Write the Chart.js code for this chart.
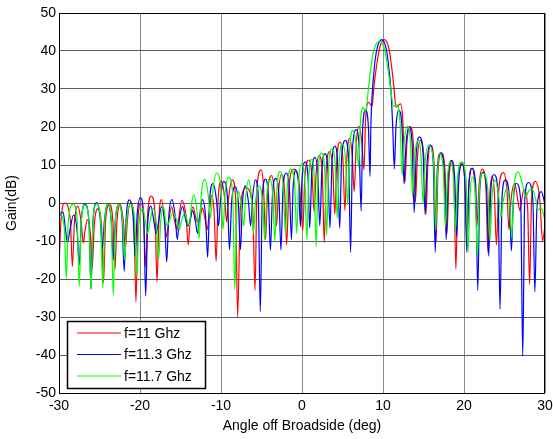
<!DOCTYPE html>
<html>

<head>
  <meta charset="utf-8">
  <title>Gain vs angle</title>
  <script src="https://cdn.jsdelivr.net/npm/chart.js@4.4.1/dist/chart.umd.min.js"></script>
  <style>
    html, body { margin: 0; padding: 0; background: #fff; }
  </style>
</head>

<body>
  <canvas id="gain" width="553" height="439"></canvas>
  <script>
    // tick values
    var xTicks = [-30, -20, -10, 0, 10, 20, 30];
    var yTicks = [-50, -40, -30, -20, -10, 0, 10, 20, 30, 40, 50];

    var seriesNames = ['f=11 Ghz', 'f=11.3 Ghz', 'f=11.7 Ghz'];

    // [angle (deg), gain (dB)]
    var red = [
      [-30, -16.5], [-29.75, -4.5], [-29.3, 0], [-28.6, -4.5], [-28.35, -16.7],
      [-28.1, -5.3], [-27.65, -0.8], [-27.25, -5.3], [-27.0, -10.5],
      [-26.8, -7.5], [-26.5, -4.4], [-26.15, -7.5], [-25.9, -17],
      [-25.65, -6], [-25.2, -1.5], [-24.75, -6], [-24.5, -21],
      [-24.25, -4.8], [-23.8, -0.3], [-23.35, -4.8], [-23.1, -17.6],
      [-22.85, -5], [-22.45, -0.5], [-22.05, -5], [-21.8, -12],
      [-21.55, -4.3], [-21.15, 0.2], [-20.75, -4.3], [-20.5, -26],
      [-20.25, -4.5], [-19.9, 0], [-19.55, -4.5], [-19.3, -16.8],
      [-19.05, -2.7], [-18.6, 1.8], [-18.15, -2.7], [-17.9, -20.8],
      [-17.65, -3.6], [-17.35, 0.9], [-17.0, -3.6], [-16.75, -9],
      [-16.5, -5.5], [-16.1, -1], [-15.7, -5], [-15.45, -7],
      [-15.2, -3.8], [-14.85, 0.7], [-14.3, -3.8], [-14.05, -11],
      [-13.8, -4.5], [-13.45, -1], [-13.1, -4], [-12.85, -5],
      [-12.6, -4], [-12.3, -1.3], [-11.95, -4.5], [-11.7, -7],
      [-11.45, -2.5], [-11.15, 2], [-10.85, -2.5], [-10.6, -15.4],
      [-10.35, 1.3], [-9.95, 5.8], [-9.55, 1.3], [-9.3, -5],
      [-9.05, 1.6], [-8.6, 6.1], [-8.2, 1.6], [-7.95, -30],
      [-7.6, -1], [-6.9, 4], [-6.1, -1], [-5.8, -23],
      [-5.55, 4.2], [-5.05, 8.7], [-4.75, 4.2], [-4.5, -9.6],
      [-4.25, 2.7], [-3.75, 7.2], [-3.4, 2.7], [-3.15, -6],
      [-2.9, 3], [-2.55, 7.5], [-2.15, 3], [-1.9, -11],
      [-1.6, 4.4], [-1.0, 8.9], [-0.3, 4.4], [0.1, -7.2],
      [0.35, 6.8], [0.85, 11.3], [1.25, 6.8], [1.5, -2.3],
      [1.75, 8], [2.1, 12.5], [2.5, 8], [2.75, -10.4],
      [3.0, 9], [3.4, 13.5], [3.8, 9], [4.05, -3],
      [4.3, 11.5], [4.7, 16], [5.05, 11.5], [5.3, -2],
      [5.55, 12.5], [5.9, 17], [6.2, 12.5], [6.45, 3],
      [6.7, 15.7], [7.05, 20.2], [7.4, 15.7], [7.65, 8.7],
      [7.85, 22], [8.2, 26.5], [8.65, 25.5],
      [8.9, 31], [9.2, 36], [9.55, 40.5], [10.15, 43], [10.75, 40.5], [11.05, 36], [11.35, 30.5], [11.6, 25.2],
      [12.15, 26.1], [12.45, 21.6], [12.7, 5.3],
      [12.95, 15.7], [13.3, 20.2], [13.75, 15.7], [14.0, 0.3],
      [14.25, 12], [14.6, 16.5], [15.05, 12], [15.3, -3],
      [15.55, 10.7], [15.9, 15.2], [16.3, 10.7], [16.55, -10],
      [16.8, 8.7], [17.2, 13.2], [17.65, 8.7], [17.9, -8],
      [18.15, 6.5], [18.5, 11], [18.75, 6.5], [19.0, -17.5],
      [19.25, 6], [19.7, 10.5], [20.1, 6], [20.35, -9],
      [20.6, 4.7], [21.0, 9.2], [21.35, 4.7], [21.6, -6],
      [21.85, 4.4], [22.25, 8.9], [22.7, 4.4], [22.95, -13],
      [23.2, 2.5], [23.5, 7], [23.75, 2.5], [24.0, -11],
      [24.3, 3.5], [24.85, 8], [25.3, 3.5], [25.55, -7],
      [25.8, 0.7], [26.25, 5.2], [26.65, 0.7], [26.9, -2],
      [27.1, 0.5], [27.4, 3.5], [27.85, -1], [28.1, -21.4],
      [28.35, 1.2], [28.8, 5.7], [29.35, 1.2], [29.7, -10],
      [30, -6]
    ];

    var blue = [
      [-30, -3.5], [-29.5, -2.4], [-29.2, -6.9], [-28.95, -10.5],
      [-28.7, -7.7], [-28.2, -3.2], [-27.75, -7.7], [-27.5, -16.3],
      [-27.25, -4.8], [-26.8, -0.3], [-26.3, -4.8], [-26.05, -22.6],
      [-25.8, -4.4], [-25.35, 0.1], [-24.9, -4.4], [-24.65, -12],
      [-24.4, -4.8], [-24.0, -0.3], [-23.55, -4.8], [-23.3, -15],
      [-23.05, -4.7], [-22.6, -0.2], [-22.2, -4.7], [-21.95, -18],
      [-21.7, -3.7], [-21.3, 0.8], [-20.85, -3.7], [-20.6, -14],
      [-20.35, -3.1], [-19.95, 1.4], [-19.55, -3.1], [-19.3, -24.5],
      [-19.05, -5.3], [-18.65, -0.8], [-18.25, -5.3], [-18.0, -8],
      [-17.75, -5.5], [-17.35, -1], [-16.95, -5.5], [-16.7, -15.5],
      [-16.45, -3.6], [-16.05, 0.9], [-15.65, -3.6], [-15.4, -9.6],
      [-15.15, -4.5], [-14.75, -0.9], [-14.35, -4.5], [-14.1, -6],
      [-13.85, -5], [-13.5, -2], [-13.15, -5], [-12.9, -8],
      [-12.65, -3.6], [-12.3, 0.9], [-11.9, -3.6], [-11.65, -14.3],
      [-11.4, 0.6], [-11.0, 5.1], [-10.55, 0.6], [-10.3, -6],
      [-10.05, 1.2], [-9.65, 5.7], [-9.2, 1.2], [-8.95, -12.3],
      [-8.7, -0.2], [-8.25, 4.3], [-7.85, -0.2], [-7.6, -12.3],
      [-7.35, 0], [-7.0, 4.5], [-6.6, 0], [-6.35, -6],
      [-6.1, 1.6], [-5.75, 6.1], [-5.4, 1.6], [-5.15, -28.6],
      [-4.9, 1.8], [-4.5, 6.3], [-4.15, 1.8], [-3.9, -12.5],
      [-3.65, 2], [-3.25, 6.5], [-2.85, 2], [-2.6, -12.4],
      [-2.35, 3.4], [-1.95, 7.9], [-1.55, 3.4], [-1.3, -9.6],
      [-1.1, 4.1], [-0.75, 8.6], [-0.4, 4.1], [-0.2, -6.2],
      [0.0, 6.3], [0.4, 10.8], [0.75, 6.3], [0.95, -6.6],
      [1.2, 7.5], [1.6, 12], [1.95, 7.5], [2.2, -6],
      [2.45, 8.5], [2.85, 13], [3.2, 8.5], [3.45, -6.5],
      [3.7, 10.5], [4.05, 15], [4.4, 10.5], [4.65, -6.6],
      [4.9, 12], [5.35, 16.5], [5.75, 12], [6.0, -13],
      [6.25, 14.8], [6.7, 19.3], [7.05, 14.8], [7.3, -2.1],
      [7.5, 19.9], [7.85, 24.4], [8.2, 19.9], [8.4, 7],
      [8.5, 20], [8.65, 28], [8.9, 35], [9.2, 40], [9.85, 43], [10.45, 40], [10.75, 35], [11.0, 29], [11.2, 20], [11.4, 9],
      [11.6, 19.9], [11.95, 24.4], [12.35, 19.9], [12.6, 5],
      [12.85, 15.5], [13.2, 20], [13.6, 15.5], [13.85, -2.5],
      [14.1, 12.9], [14.5, 17.4], [14.95, 12.9], [15.2, -3],
      [15.45, 10.8], [15.8, 15.3], [16.2, 10.8], [16.45, -13],
      [16.7, 8.7], [17.1, 13.2], [17.55, 8.7], [17.8, -9.7],
      [18.05, 6.7], [18.45, 11.2], [18.85, 6.7], [19.1, -9],
      [19.35, 5.7], [19.75, 10.2], [20.1, 5.7], [20.35, -13],
      [20.6, 4.6], [21.0, 9.1], [21.45, 4.6], [21.7, -23],
      [21.95, 3.6], [22.35, 8.1], [22.8, 3.6], [23.05, -14],
      [23.3, 3], [23.7, 7.5], [24.2, 3], [24.45, -28],
      [24.7, 1.6], [25.1, 6.1], [25.6, 1.6], [25.85, -12.6],
      [26.1, 0.7], [26.45, 5.2], [27.0, 0.7], [27.25, -40.3],
      [27.5, 0.9], [27.95, 5.4], [28.5, 0.9], [28.75, -23.4],
      [29.0, -1.5], [29.55, 3], [30, -0.5]
    ];

    var green = [
      [-30, -2], [-29.35, -6.5], [-29.1, -19.9],
      [-28.85, -4.8], [-28.25, -0.3], [-27.75, -4.8], [-27.5, -22],
      [-27.25, -5], [-26.8, -0.5], [-26.3, -5], [-26.05, -22.7],
      [-25.8, -4.7], [-25.35, -0.2], [-24.85, -4.7], [-24.6, -22.3],
      [-24.35, -4.8], [-23.95, -0.3], [-23.55, -4.8], [-23.3, -24.3],
      [-23.05, -4.8], [-22.6, -0.3], [-22.15, -4.8], [-21.9, -15],
      [-21.65, -4.8], [-21.15, -0.3], [-20.65, -4.8], [-20.4, -19.4],
      [-20.15, -6], [-19.65, -1.5], [-19.3, -5.5], [-19.05, -8],
      [-18.8, -5.5], [-18.4, -1.5], [-17.95, -6], [-17.7, -14.7],
      [-17.45, -5], [-17.1, -1], [-16.85, -4.5], [-16.6, -6],
      [-16.35, -4.5], [-15.9, -2.5], [-15.4, -5], [-15.15, -7],
      [-14.9, -5], [-14.5, -2.7], [-14.15, -4.8], [-13.9, -6],
      [-13.7, -1.5], [-13.4, 2.2], [-12.95, -2.3], [-12.7, -9.3],
      [-12.45, 1.7], [-12.0, 6.2], [-11.55, 1.7], [-11.3, -4],
      [-11.0, 3.4], [-10.55, 7.9], [-10.0, 3.4], [-9.75, -7],
      [-9.5, 2.3], [-9.05, 6.8], [-8.55, 2.3], [-8.3, -22.7],
      [-8.05, -1.5], [-7.8, 3], [-7.45, -1.5], [-7.2, -6],
      [-6.95, 1.5], [-6.6, 6], [-6.25, 1.5], [-6.0, -8],
      [-5.75, 0], [-5.35, 4.5], [-4.85, 0], [-4.6, -9.8],
      [-4.35, 2], [-4.0, 6.5], [-3.6, 2], [-3.35, -10],
      [-3.1, 3.8], [-2.7, 8.3], [-2.3, 3.8], [-2.05, -8],
      [-1.8, 4.5], [-1.4, 9], [-0.9, 4.5], [-0.65, -8],
      [-0.4, 5.9], [-0.05, 10.4], [0.35, 5.9], [0.6, -9.7],
      [0.85, 7], [1.2, 11.5], [1.5, 7], [1.75, -11.5],
      [2.0, 8.7], [2.4, 13.2], [2.8, 8.7], [3.05, -8.4],
      [3.3, 9.8], [3.7, 14.3], [4.1, 9.8], [4.35, -4],
      [4.6, 11], [5.0, 15.5], [5.4, 11], [5.65, -0.5],
      [5.9, 14.7], [6.3, 19.2], [6.75, 14.7], [7.0, 9.5],
      [7.2, 21], [7.55, 25.1], [7.85, 24],
      [8.2, 30], [8.5, 35.5], [8.85, 40], [9.55, 42.6], [10.25, 40], [10.6, 35.5], [10.95, 30], [11.3, 25.4],
      [11.65, 25.9], [12.1, 21.4], [12.35, 7.3],
      [12.6, 15.7], [13.0, 20.2], [13.4, 15.7], [13.65, 1.6],
      [13.9, 12], [14.4, 16.5], [14.7, 12], [14.95, -0.2],
      [15.2, 10.7], [15.65, 15.2], [16.25, 10.7], [16.5, -7.2],
      [16.75, 8.5], [17.0, 13], [17.45, 8.5], [17.7, -6.3],
      [17.95, 6.3], [18.35, 10.8], [18.7, 6.3], [18.95, -7.2],
      [19.2, 6.3], [19.7, 10.8], [20.25, 6.3], [20.5, -12.9],
      [20.75, 2.3], [21.0, 6.8], [21.4, 2.3], [21.65, -13.8],
      [21.9, 3.4], [22.3, 7.9], [22.95, 3.4], [23.2, -9.8],
      [23.45, 1.5], [23.8, 6], [24.3, 1.5], [24.55, -3.7],
      [24.8, 0], [25.3, 4], [25.65, -0.5], [25.9, -9],
      [26.15, 3.7], [26.7, 8.2], [27.35, 3.7], [27.65, 1.6],
      [27.9, 2.8], [28.35, 3.8], [28.85, 1], [29.1, -1.9],
      [29.5, -1.2], [30, -4.5]
    ];

    var lineColors = ['#ff0000', '#0000ff', '#00ff00'];

    var FONT = { family: "'Liberation Sans', Arial, sans-serif", size: 14 };

    function toPoints(list) {
      return list.map(function (p) { return { x: p[0], y: p[1] }; });
    }

    // box round the plot and the legend in the lower left corner
    var framePlugin = {
      id: 'frame',
      afterDraw: function (chart) {
        var ctx = chart.ctx;
        var a = chart.chartArea;
        ctx.save();
        ctx.strokeStyle = '#000';
        ctx.lineWidth = 1;
        ctx.strokeRect(a.left + 0.5, a.top + 0.5, a.right - a.left - 1, a.bottom - a.top);

        var bx = a.left + 8, by = a.bottom - 72, bw = 138, bh = 67;
        ctx.fillStyle = '#fff';
        ctx.fillRect(bx, by, bw, bh);
        ctx.lineWidth = 1.5;
        ctx.strokeRect(bx + 0.5, by + 0.5, bw, bh);

        ctx.font = FONT.size + 'px ' + FONT.family;
        ctx.textBaseline = 'middle';
        ctx.textAlign = 'left';
        for (var i = 0; i < seriesNames.length; i++) {
          var ly = by + 12 + i * 21.5;
          ctx.strokeStyle = lineColors[i];
          ctx.lineWidth = 1.2;
          ctx.beginPath();
          ctx.moveTo(bx + 10, ly);
          ctx.lineTo(bx + 54, ly);
          ctx.stroke();
          ctx.fillStyle = '#000';
          ctx.fillText(seriesNames[i], bx + 57, ly + 1);
        }
        ctx.restore();
      }
    };

    var chart = new Chart(document.getElementById('gain'), {
      type: 'line',
      data: {
        datasets: [
          { label: seriesNames[0], data: toPoints(red), borderColor: lineColors[0], order: 3 },
          { label: seriesNames[1], data: toPoints(blue), borderColor: lineColors[1], order: 2 },
          { label: seriesNames[2], data: toPoints(green), borderColor: lineColors[2], order: 1 }
        ]
      },
      options: {
        responsive: false,
        animation: false,
        events: [],
        layout: { padding: { left: 0, right: 8, top: 13, bottom: 0 } },
        elements: {
          point: { radius: 0 },
          line: { borderWidth: 1.2, fill: false, cubicInterpolationMode: 'monotone' }
        },
        plugins: {
          legend: { display: false },
          tooltip: { enabled: false }
        },
        scales: {
          x: {
            type: 'linear',
            min: -30,
            max: 30,
            afterBuildTicks: function (s) { s.ticks = xTicks.map(function (v) { return { value: v }; }); },
            afterFit: function (s) {
              s.height = 46;
              s.paddingLeft = 0;
              s.paddingRight = 0;
            },
            grid: { color: '#8a8a8a', lineWidth: 1, drawTicks: false },
            border: { display: false },
            ticks: { color: '#000', font: FONT, padding: 5, maxRotation: 0, autoSkip: false },
            title: {
              display: true,
              text: 'Angle off Broadside (deg)',
              color: '#000',
              font: FONT,
              padding: { top: 0, bottom: 4 }
            }
          },
          y: {
            type: 'linear',
            min: -50,
            max: 50,
            afterBuildTicks: function (s) { s.ticks = yTicks.map(function (v) { return { value: v }; }); },
            afterFit: function (s) {
              s.width = 59;
              s.paddingTop = 0;
              s.paddingBottom = 0;
            },
            grid: { color: '#5a5a5a', lineWidth: 1, drawTicks: false },
            border: { display: false },
            ticks: { color: '#000', font: FONT, padding: 3, autoSkip: false },
            title: {
              display: true,
              text: 'Gain(dB)',
              color: '#000',
              font: FONT,
              padding: { top: 4, bottom: 0 }
            }
          }
        }
      },
      plugins: [framePlugin]
    });
  </script>
</body>

</html>
